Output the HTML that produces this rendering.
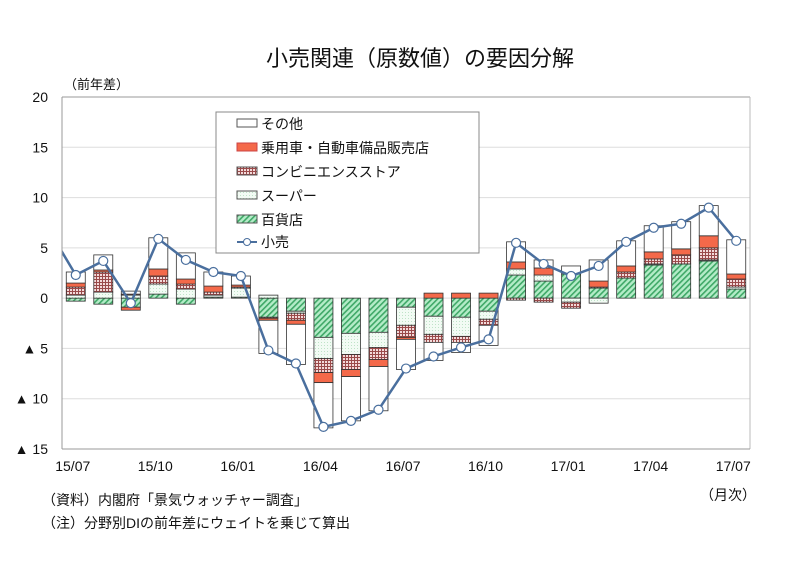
<!DOCTYPE html>
<html><head><meta charset="utf-8">
<style>
body{margin:0;background:#fff;font-family:"Liberation Sans","Noto Sans CJK JP",sans-serif;}
svg text{font-family:"Liberation Sans","Noto Sans CJK JP",sans-serif;fill:#111;}
</style></head>
<body>
<svg id="chart" width="786" height="560" xmlns="http://www.w3.org/2000/svg">
<defs>
<pattern id="pDept" patternUnits="userSpaceOnUse" width="4" height="4" patternTransform="rotate(45)">
<rect width="4" height="4" fill="#b4ecc8"/><rect width="1.6" height="4" fill="#3fa867"/></pattern>
<pattern id="pSuper" patternUnits="userSpaceOnUse" width="3" height="3">
<rect width="3" height="3" fill="#f2fbf4"/><rect width="1" height="1" fill="#bfe3c8"/></pattern>
<pattern id="pConv" patternUnits="userSpaceOnUse" width="3" height="3">
<rect width="3" height="3" fill="#f3dada"/><rect width="3" height="1" fill="#9a4a4a"/><rect width="1" height="3" fill="#9a4a4a"/></pattern>
</defs>
<text x="420" y="66" font-size="22" text-anchor="middle">小売関連（原数値）の要因分解</text>
<text x="64" y="89" font-size="13">（前年差）</text>
<g id="grid"></g>
<g id="bars"></g>
<g id="line"></g>
<g id="axes"></g>
<g>
<rect x="216" y="112" width="263" height="141" fill="#fff" stroke="#888"/>
<rect x="237" y="119" width="20" height="8" fill="#fff" stroke="#555"/><text x="261" y="129" font-size="14">その他</text>
<rect x="237" y="143" width="20" height="8" fill="#f4694a" stroke="#c44"/><text x="261" y="153" font-size="14">乗用車・自動車備品販売店</text>
<rect x="237" y="167" width="20" height="8" fill="url(#pConv)" stroke="#555"/><text x="261" y="177" font-size="14">コンビニエンスストア</text>
<rect x="237" y="191" width="20" height="8" fill="url(#pSuper)" stroke="#555"/><text x="261" y="201" font-size="14">スーパー</text>
<rect x="237" y="215" width="20" height="8" fill="url(#pDept)" stroke="#555"/><text x="261" y="225" font-size="14">百貨店</text>
<line x1="237" y1="242" x2="257" y2="242" stroke="#4a6f9e" stroke-width="2"/><circle cx="247" cy="242" r="3.5" fill="#fff" stroke="#4a6f9e"/><text x="261" y="247" font-size="14">小売</text>
</g>
<text x="700" y="500" font-size="14">（月次）</text>
<text x="42" y="505" font-size="14">（資料）内閣府「景気ウォッチャー調査」</text>
<text x="42" y="528" font-size="14">（注）分野別DIの前年差にウェイトを乗じて算出</text>
</svg>
<script>
const months = ["15/07","15/08","15/09","15/10","15/11","15/12","16/01","16/02","16/03","16/04","16/05","16/06","16/07","16/08","16/09","16/10","16/11","16/12","17/01","17/02","17/03","17/04","17/05","17/06","17/07"];
const dept  = [-0.3,-0.6,-0.9,0.4,-0.6,0.1,0.1,-1.9,-1.3,-3.9,-3.5,-3.4,-0.9,-1.8,-1.9,-1.3,2.3,1.7,2.4,1.0,2.0,3.3,3.4,3.7,0.9];
const superm= [0.3,0.6,0.3,1.0,0.9,0.2,0.9,0.3,-0.2,-2.1,-2.1,-1.5,-1.8,-1.8,-1.9,-0.8,0.6,0.6,-0.4,-0.5,0.0,0.1,0.0,0.1,0.2];
const conv  = [0.8,2.0,0.1,0.8,0.5,0.3,0.1,-0.1,-0.7,-1.4,-1.5,-1.2,-1.2,-0.8,-0.6,-0.6,-0.2,-0.4,-0.6,0.1,0.6,0.5,0.9,1.2,0.8];
const car   = [0.4,0.2,-0.3,0.7,0.5,0.6,0.2,-0.2,-0.4,-1.0,-0.7,-0.7,-0.2,0.5,0.5,0.5,0.7,0.7,0.0,0.6,0.6,0.7,0.6,1.2,0.5];
const other = [1.1,1.5,0.3,3.1,2.6,1.4,0.9,-3.3,-4.0,-4.5,-4.4,-4.4,-3.0,-1.8,-1.0,-2.0,2.0,0.8,0.8,2.1,2.5,2.6,2.7,3.0,3.4];
const retail= [2.3,3.7,-0.5,5.9,3.8,2.6,2.2,-5.2,-6.5,-12.8,-12.2,-11.1,-7.0,-5.8,-4.9,-4.1,5.5,3.4,2.2,3.2,5.6,7.0,7.4,9.0,5.7];
const retailPrev = 6.9;
const yTicks = [20,15,10,5,0,-5,-10,-15];
const yTickLabels = ["20","15","10","5","0","▲ 5","▲ 10","▲ 15"];
const xLabelIdx = [0,3,6,9,12,15,18,21,24];

const NS="http://www.w3.org/2000/svg";
const L=62,R=750,yMax=20,yMin=-15,T=97,B=449;
const slot=(R-L)/months.length;
const x=i=>L+slot*(i+0.5);
const y=v=>T+(yMax-v)*(B-T)/(yMax-yMin);
function mk(tag,attrs,parent){const e=document.createElementNS(NS,tag);for(const k in attrs)e.setAttribute(k,attrs[k]);parent.appendChild(e);return e;}
const grid=document.getElementById('grid'),axes=document.getElementById('axes'),bars=document.getElementById('bars'),line=document.getElementById('line');
yTicks.forEach((t,i)=>{
  const g=mk('line',{x1:L,x2:R,y1:y(t),y2:y(t),stroke:t===20?'#999':'#ddd','stroke-width':1},grid);
  
  
  const tx=mk('text',{x:48,y:y(t)+5,'font-size':14,'text-anchor':'end'},axes);
  tx.textContent=yTickLabels[i];
  
  
});
mk('line',{x1:L,x2:L,y1:T,y2:B,stroke:'#999'},axes);
mk('line',{x1:R,x2:R,y1:T,y2:B,stroke:'#bbb'},axes);
mk('line',{x1:L,x2:R,y1:B,y2:B,stroke:'#999'},axes);
xLabelIdx.forEach(i=>{
  const tx=mk('text',{x:x(i)-3,y:471,'font-size':14,'text-anchor':'middle'},axes);
  tx.textContent=months[i];
  
  
});
const series=[[dept,'url(#pDept)','dept'],[superm,'url(#pSuper)','super'],[conv,'url(#pConv)','conv'],[car,'#f4694a','car'],[other,'#fff','other']];
const bw=19;
months.forEach((m,i)=>{
  let pos=0,neg=0;
  series.forEach(([arr,fill,nm])=>{
    const v=arr[i];let y0,y1;
    if(v>=0){y0=pos;y1=pos+v;pos=y1;}else{y0=neg;y1=neg+v;neg=y1;}
    const top=y(Math.max(y0,y1)),h=Math.abs(y(y0)-y(y1));
    const r=mk('rect',{x:x(i)-bw/2,y:top,width:bw,height:h,fill:fill,stroke:'#333','stroke-width':0.8},bars);
    
    
  });
});
let pts=[[x(-1),y(retailPrev)]].concat(retail.map((v,i)=>[x(i),y(v)]));
const cp=mk('clipPath',{id:'clp'},line);
mk('rect',{x:L,y:T,width:R-L,height:B-T},cp);
const pl=mk('polyline',{points:pts.map(p=>p.join(',')).join(' '),fill:'none',stroke:'#4a6f9e','stroke-width':2.5,'clip-path':'url(#clp)'},line);


retail.forEach((v,i)=>{
  const c=mk('circle',{cx:x(i),cy:y(v),r:4.5,fill:'#fff',stroke:'#4a6f9e','stroke-width':1.2},line);
  
  
});
</script>
</body></html>
